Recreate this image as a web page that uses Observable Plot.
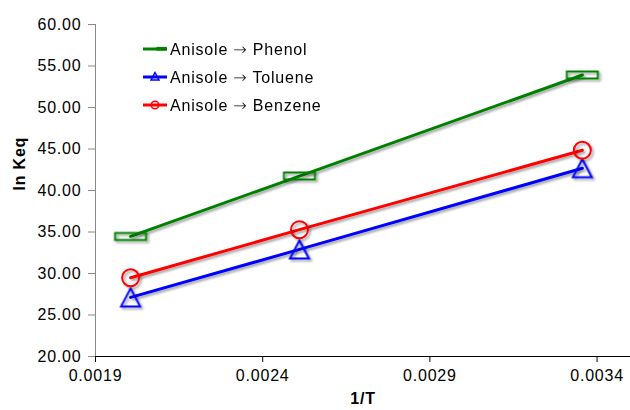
<!DOCTYPE html>
<html>
<head>
<meta charset="utf-8">
<script src="https://cdn.jsdelivr.net/npm/d3@7"></script>
<script src="https://cdn.jsdelivr.net/npm/@observablehq/plot@0.6"></script>
<style>
  html, body { margin: 0; padding: 0; background: #fff; }
  #wrap { position: relative; width: 630px; height: 410px; }
  #wrap svg text { letter-spacing: 0.8px; }
  #legend { position: absolute; left: 142px; top: 35px; font-family: 'Liberation Sans', Arial, sans-serif; font-size: 16px; letter-spacing: 0.8px; color: #000; }
  .row { height: 28px; display: flex; align-items: center; }
  .row svg { width: 26px; height: 20px; margin-right: 2px; flex: none; }
  .arrow { font-family: 'DejaVu Sans', sans-serif; font-weight: 200; }
</style>
</head>
<body>
<div id="wrap"><div id="legend"></div></div>
<script>
// Data
const xValues = [0.002005, 0.00251, 0.003356];
const phenol  = [34.47, 41.74, 53.92];
const toluene = [27.12, 32.90, 42.68];
const benzene = [29.49, 35.28, 44.85];
const seriesFrom = ["Anisole", "Anisole", "Anisole"];
const seriesTo = ["Phenol", "Toluene", "Benzene"];
const seriesNames = seriesFrom.map((a, i) => a + " \u2192 " + seriesTo[i]);
const seriesColors = ["#008000", "#0000ff", "#ff0000"];
const xTicks = [0.0019, 0.0024, 0.0029, 0.0034];
const yTicks = [20, 25, 30, 35, 40, 45, 50, 55, 60];
const xLabel = "1/T";
const yLabel = "ln Keq";

const seriesValues = [phenol, toluene, benzene];
const rows = seriesValues.map((vals, i) =>
  vals.map((v, j) => ({series: seriesNames[i], x: xValues[j], y: v})));

// custom symbols
const wideRect = {draw(ctx) { ctx.rect(-15.5, -3.5, 31, 7); }};
const triangle = {draw(ctx) { ctx.moveTo(0, -9); ctx.lineTo(9.5, 9); ctx.lineTo(-9.5, 9); ctx.closePath(); }};
const symbols = [wideRect, triangle, "circle"];

const marks = [
  Plot.axisY({ticks: yTicks, tickFormat: d => d.toFixed(2), tickSize: 7, tickPadding: 7, stroke: "#888", fill: "#000", label: null}),
  Plot.axisX({ticks: xTicks, tickFormat: d => d.toFixed(4), tickSize: 6, tickPadding: 7, stroke: "#000", fill: "#000", label: null}),
  Plot.ruleX([xTicks[0]], {stroke: "#888"}),
  Plot.ruleY([yTicks[0]], {stroke: "#000"})
];
rows.forEach((data, i) => {
  marks.push(Plot.line(data, {x: "x", y: "y", stroke: seriesColors[i], strokeWidth: 3}));
});
rows.forEach((data, i) => {
  marks.push(Plot.dot(data, {x: "x", y: "y", stroke: seriesColors[i], strokeWidth: 2, fill: "none", symbol: symbols[i], r: 8.5}));
});
marks.push(Plot.text([yLabel], {text: d => d, frameAnchor: "left", dx: -76, rotate: -90, fontWeight: "bold", fontSize: 16, fill: "#000"}));
marks.push(Plot.text([xLabel], {text: d => d, frameAnchor: "bottom", dy: 47, fontWeight: "bold", fontSize: 16, fill: "#000"}));

const chart = Plot.plot({
  width: 630, height: 410,
  marginLeft: 95, marginRight: 0, marginTop: 24, marginBottom: 54,
  x: {domain: [0.0019, 0.0035]},
  y: {domain: [20, 60]},
  style: {fontFamily: "'Liberation Sans', Arial, sans-serif", fontSize: "16px", background: "white", overflow: "visible"},
  marks
});

// drop shadow like the original
const svg = d3.select(chart);
const defs = svg.insert("defs", ":first-child");
const f = defs.append("filter").attr("id", "shadow").attr("x", "-20%").attr("y", "-20%").attr("width", "140%").attr("height", "140%");
f.append("feDropShadow").attr("dx", 2).attr("dy", 2).attr("stdDeviation", 1.2).attr("flood-color", "#000").attr("flood-opacity", 0.35);
svg.selectAll('g[aria-label="line"], g[aria-label="dot"]').attr("filter", "url(#shadow)");

document.getElementById("wrap").prepend(chart);

// legend
const legend = d3.select("#legend");
seriesNames.forEach((name, i) => {
  const row = legend.append("div").attr("class", "row");
  const s = row.append("svg").attr("viewBox", "0 0 26 20");
  s.append("line").attr("x1", 1).attr("x2", 25).attr("y1", 10).attr("y2", 10).attr("stroke", seriesColors[i]).attr("stroke-width", 3);
  if (i === 0) s.append("rect").attr("x", 15).attr("y", 8.5).attr("width", 9).attr("height", 2.5).attr("fill", "none").attr("stroke", seriesColors[i]).attr("stroke-width", 1.2);
  if (i === 1) s.append("path").attr("d", "M13,5.5L17,13L9,13Z").attr("fill", "none").attr("stroke", seriesColors[i]).attr("stroke-width", 1.5);
  if (i === 2) s.append("circle").attr("cx", 13).attr("cy", 10).attr("r", 3.8).attr("fill", "none").attr("stroke", seriesColors[i]).attr("stroke-width", 1.5);
  const t = row.append("span");
  t.append("span").text(seriesFrom[i] + " ");
  t.append("span").attr("class", "arrow").text("\u2192");
  t.append("span").text(" " + seriesTo[i]);
});
</script>
</body>
</html>
